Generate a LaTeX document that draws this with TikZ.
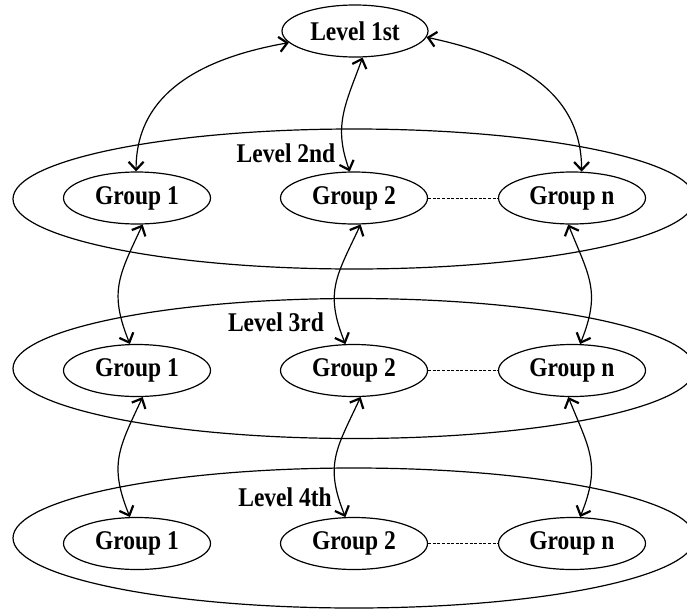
\documentclass[tikz,border=0pt]{standalone}
\usepackage{fontspec}
\usepackage{graphicx}
\setmainfont{Liberation Serif}
\usetikzlibrary{shapes.geometric,arrows.meta}
\newcommand{\tl}[1]{\scalebox{1}[1.15]{#1}}
\tikzset{
  grp/.style={draw, line width=1.2pt, ellipse, minimum width=147pt, minimum height=52pt, inner sep=0pt,
    font=\fontsize{23.5}{28}\selectfont\bfseries},
  big/.style={draw, line width=1.2pt, ellipse, minimum width=682pt, minimum height=140pt, inner sep=0pt},
  lvl/.style={inner sep=0pt, font=\fontsize{23.5}{28}\selectfont\bfseries},
  link/.style={line width=1.2pt, {Straight Barb[length=8pt,width=15pt,line width=2.2pt]}-{Straight Barb[length=8pt,width=15pt,line width=2.2pt]}},
  dots/.style={line width=1pt, dash pattern=on 3pt off 1.6pt}
}
\begin{document}
\begin{tikzpicture}[x=1pt,y=1pt]
\useasboundingbox (0,0) rectangle (687,-608);
% big level ellipses
\node[big] (B2) at (354,-199) {};
\node[big] (B3) at (354,-368.5) {};
\node[big] (B4) at (354,-538) {};
% level 1
\node[grp, minimum width=146pt] (L1) at (355,-31) {\tl{Level 1st}};
% level labels
\node[lvl] (T2) at (286,-153) {\tl{Level 2nd}};
\node[lvl] (T3) at (276,-322) {\tl{Level 3rd}};
\node[lvl] (T4) at (285,-497) {\tl{Level 4th}};
% groups
\node[grp] (a1) at (137,-198) {\tl{Group 1}};
\node[grp] (a2) at (354,-198) {\tl{Group 2}};
\node[grp] (an) at (572,-198) {\tl{Group n}};
\node[grp] (b1) at (137,-370.5) {\tl{Group 1}};
\node[grp] (b2) at (354,-370.5) {\tl{Group 2}};
\node[grp] (bn) at (572,-370.5) {\tl{Group n}};
\node[grp] (c1) at (137,-543.5) {\tl{Group 1}};
\node[grp] (c2) at (354,-543.5) {\tl{Group 2}};
\node[grp] (cn) at (572,-543.5) {\tl{Group n}};
% dotted links
\draw[dots] (a2.east) -- (an.west);
\draw[dots] (b2.east) -- (bn.west);
\draw[dots] (c2.east) -- (cn.west);
% level 1 to level 2
\draw[link] (L1.190) to[out=190, in=90, looseness=1.05] (a1.92);
\draw[link] (L1.286) to[out=250, in=110, looseness=1.1] (a2.99);
\draw[link] (L1.355) to[out=-12, in=90, looseness=1.05] (an.70);
% level 2 to level 3
\draw[link] (a1.282) to[out=245, in=112, looseness=1.2] (b1.105);
\draw[link] (a2.284) to[out=245, in=112, looseness=1.2] (b2.108);
\draw[link] (an.262) to[out=292, in=68, looseness=1.2] (bn.73);
% level 3 to level 4
\draw[link] (b1.282) to[out=245, in=112, looseness=1.2] (c1.105);
\draw[link] (b2.284) to[out=245, in=112, looseness=1.2] (c2.108);
\draw[link] (bn.262) to[out=292, in=68, looseness=1.2] (cn.73);
\end{tikzpicture}
\end{document}
